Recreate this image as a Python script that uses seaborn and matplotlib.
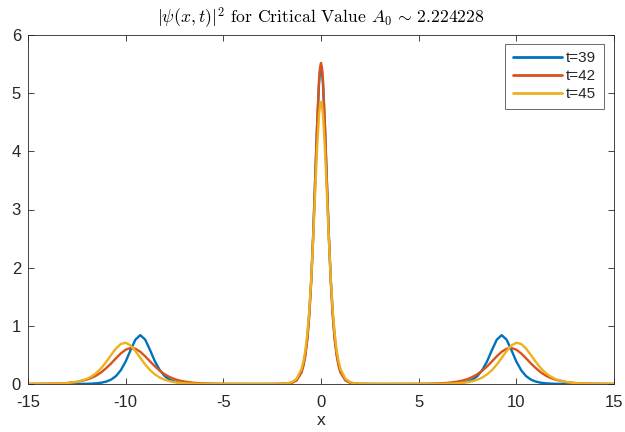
import matplotlib
matplotlib.use("Agg")
import matplotlib.pyplot as plt
import seaborn as sns
import pandas as pd

# ---- data ----
x_vals = [-15, -14, -13.5, -13, -12.5, -12, -11.75, -11.5, -11.25, -11, -10.75, -10.5, -10.25, -10,
          -9.75, -9.5, -9.25, -9, -8.75, -8.5, -8.25, -8, -7.75, -7.5, -7.25, -7, -6.5, -6, -5.5, -5,
          -4, -3, -2.5, -2, -1.75, -1.5, -1.25, -1.0, -0.9, -0.8, -0.7, -0.6, -0.5, -0.4, -0.3, -0.2, -0.1, -0.05,
          0,
          0.05, 0.1, 0.2, 0.3, 0.4, 0.5, 0.6, 0.7, 0.8, 0.9, 1.0, 1.25, 1.5, 1.75, 2, 2.5, 3, 4,
          5, 5.5, 6, 6.5, 7, 7.25, 7.5, 7.75, 8, 8.25, 8.5, 8.75, 9, 9.25, 9.5, 9.75, 10,
          10.25, 10.5, 10.75, 11, 11.25, 11.5, 11.75, 12, 12.5, 13, 13.5, 14, 15]

y_t39 = [0.0, 0.0, 0.0001, 0.0003, 0.001, 0.0035, 0.0065, 0.012, 0.022, 0.041, 0.075, 0.135, 0.236, 0.387,
         0.582, 0.763, 0.84, 0.763, 0.582, 0.387, 0.236, 0.135, 0.075, 0.041, 0.022, 0.012, 0.0035, 0.001, 0.0003, 0.0002,
         0.0001, 0.0002, 0.0005, 0.002, 0.007, 0.022, 0.069, 0.21, 0.34, 0.52, 0.80, 1.22, 1.80, 2.58, 3.50, 4.44, 5.17, 5.38,
         5.45,
         5.38, 5.17, 4.44, 3.50, 2.58, 1.80, 1.22, 0.80, 0.52, 0.34, 0.21, 0.069, 0.022, 0.007, 0.002, 0.0005, 0.0002, 0.0001,
         0.0002, 0.0003, 0.001, 0.0035, 0.012, 0.022, 0.041, 0.075, 0.135, 0.236, 0.387, 0.582, 0.763, 0.84, 0.763, 0.582, 0.387,
         0.236, 0.135, 0.075, 0.041, 0.022, 0.012, 0.0065, 0.0035, 0.001, 0.0003, 0.0001, 0.0, 0.0]

y_t42 = [0.0009, 0.0039, 0.0083, 0.017, 0.036, 0.074, 0.105, 0.146, 0.201, 0.272, 0.352, 0.441, 0.525, 0.590,
         0.619, 0.606, 0.554, 0.476, 0.388, 0.302, 0.227, 0.167, 0.120, 0.085, 0.060, 0.042, 0.020, 0.0096, 0.0045, 0.0021,
         0.0005, 0.0003, 0.0005, 0.002, 0.006, 0.019, 0.062, 0.197, 0.31, 0.49, 0.76, 1.17, 1.76, 2.53, 3.48, 4.46, 5.23, 5.44,
         5.52,
         5.44, 5.23, 4.46, 3.48, 2.53, 1.76, 1.17, 0.76, 0.49, 0.31, 0.197, 0.062, 0.019, 0.006, 0.002, 0.0005, 0.0003, 0.0005,
         0.0021, 0.0045, 0.0096, 0.020, 0.042, 0.060, 0.085, 0.120, 0.167, 0.227, 0.302, 0.388, 0.476, 0.554, 0.606, 0.619, 0.590,
         0.525, 0.441, 0.352, 0.272, 0.201, 0.146, 0.105, 0.074, 0.036, 0.017, 0.0083, 0.0039, 0.0009]

y_t45 = [0.0005, 0.0027, 0.0066, 0.0156, 0.037, 0.086, 0.129, 0.190, 0.273, 0.378, 0.497, 0.609, 0.688, 0.709,
         0.663, 0.567, 0.448, 0.334, 0.238, 0.164, 0.110, 0.073, 0.048, 0.031, 0.020, 0.013, 0.0055, 0.0023, 0.0009, 0.0004,
         0.0001, 0.0001, 0.0005, 0.0036, 0.010, 0.031, 0.089, 0.256, 0.39, 0.58, 0.87, 1.27, 1.81, 2.50, 3.28, 4.05, 4.63, 4.79,
         4.85,
         4.79, 4.63, 4.05, 3.28, 2.50, 1.81, 1.27, 0.87, 0.58, 0.39, 0.256, 0.089, 0.031, 0.010, 0.0036, 0.0005, 0.0001, 0.0001,
         0.0004, 0.0009, 0.0023, 0.0055, 0.013, 0.020, 0.031, 0.048, 0.073, 0.110, 0.164, 0.238, 0.334, 0.448, 0.567, 0.663, 0.709,
         0.688, 0.609, 0.497, 0.378, 0.273, 0.190, 0.129, 0.086, 0.037, 0.0156, 0.0066, 0.0027, 0.0005]

series_labels = ["t=39", "t=42", "t=45"]
series_colors = ["#0072BD", "#D95319", "#EDB120"]
x_ticks = [-15, -10, -5, 0, 5, 10, 15]
y_ticks = [0, 1, 2, 3, 4, 5, 6]

# ---- build long table ----
frames = []
for lab, ys in zip(series_labels, [y_t39, y_t42, y_t45]):
    frames.append(pd.DataFrame({"x": x_vals, "y": ys, "t": lab}))
df = pd.concat(frames, ignore_index=True)

sns.set_theme(style="white")
plt.rcParams["font.family"] = ["Liberation Sans", "DejaVu Sans"]
plt.rcParams["mathtext.fontset"] = "cm"
plt.rcParams["axes.formatter.use_mathtext"] = True

fig = plt.figure(figsize=(6.25, 4.32), dpi=100)
fig.patch.set_facecolor("white")
ax = fig.add_axes([28 / 625, 1 - 384 / 432, (614 - 28) / 625, (384 - 35) / 432])

sns.lineplot(data=df, x="x", y="y", hue="t", hue_order=series_labels,
             palette=series_colors, linewidth=1.7, estimator=None, sort=False, ax=ax)

ax.set_xlim(-15, 15)
ax.set_ylim(0, 6)
ax.set_xticks(x_ticks)
ax.set_yticks(y_ticks)
ax.set_xticklabels([str(v) for v in x_ticks])
ax.set_yticklabels([str(v) for v in y_ticks])
ax.tick_params(direction="in", length=4, width=0.6, colors="#262626", labelsize=12,
               top=True, right=True, bottom=True, left=True)
ax.tick_params(axis="x", pad=8)
ax.tick_params(axis="y", pad=5)
for sp in ax.spines.values():
    sp.set_visible(True)
    sp.set_color("#262626")
    sp.set_linewidth(0.6)
ax.set_xlabel("x", fontsize=12.5, color="#262626", labelpad=2)
ax.set_ylabel("")
ax.set_title(r"$|\psi(x,t)|^2$ for Critical Value $A_0 \,\sim\, 2.224228$",
             fontsize=12.7, family="cmr10", color="black", pad=8)

leg = ax.legend(loc="upper right", fontsize=11, frameon=True, fancybox=False,
                handlelength=3.2, handletextpad=0.3, borderpad=0.5, labelspacing=0.25,
                bbox_to_anchor=(0.983, 0.975), borderaxespad=0.0)
leg.get_frame().set_edgecolor("#262626")
leg.get_frame().set_linewidth(0.6)
for line in leg.get_lines():
    line.set_linewidth(2.0)

fig.savefig("out.png", dpi=100, facecolor="white")
